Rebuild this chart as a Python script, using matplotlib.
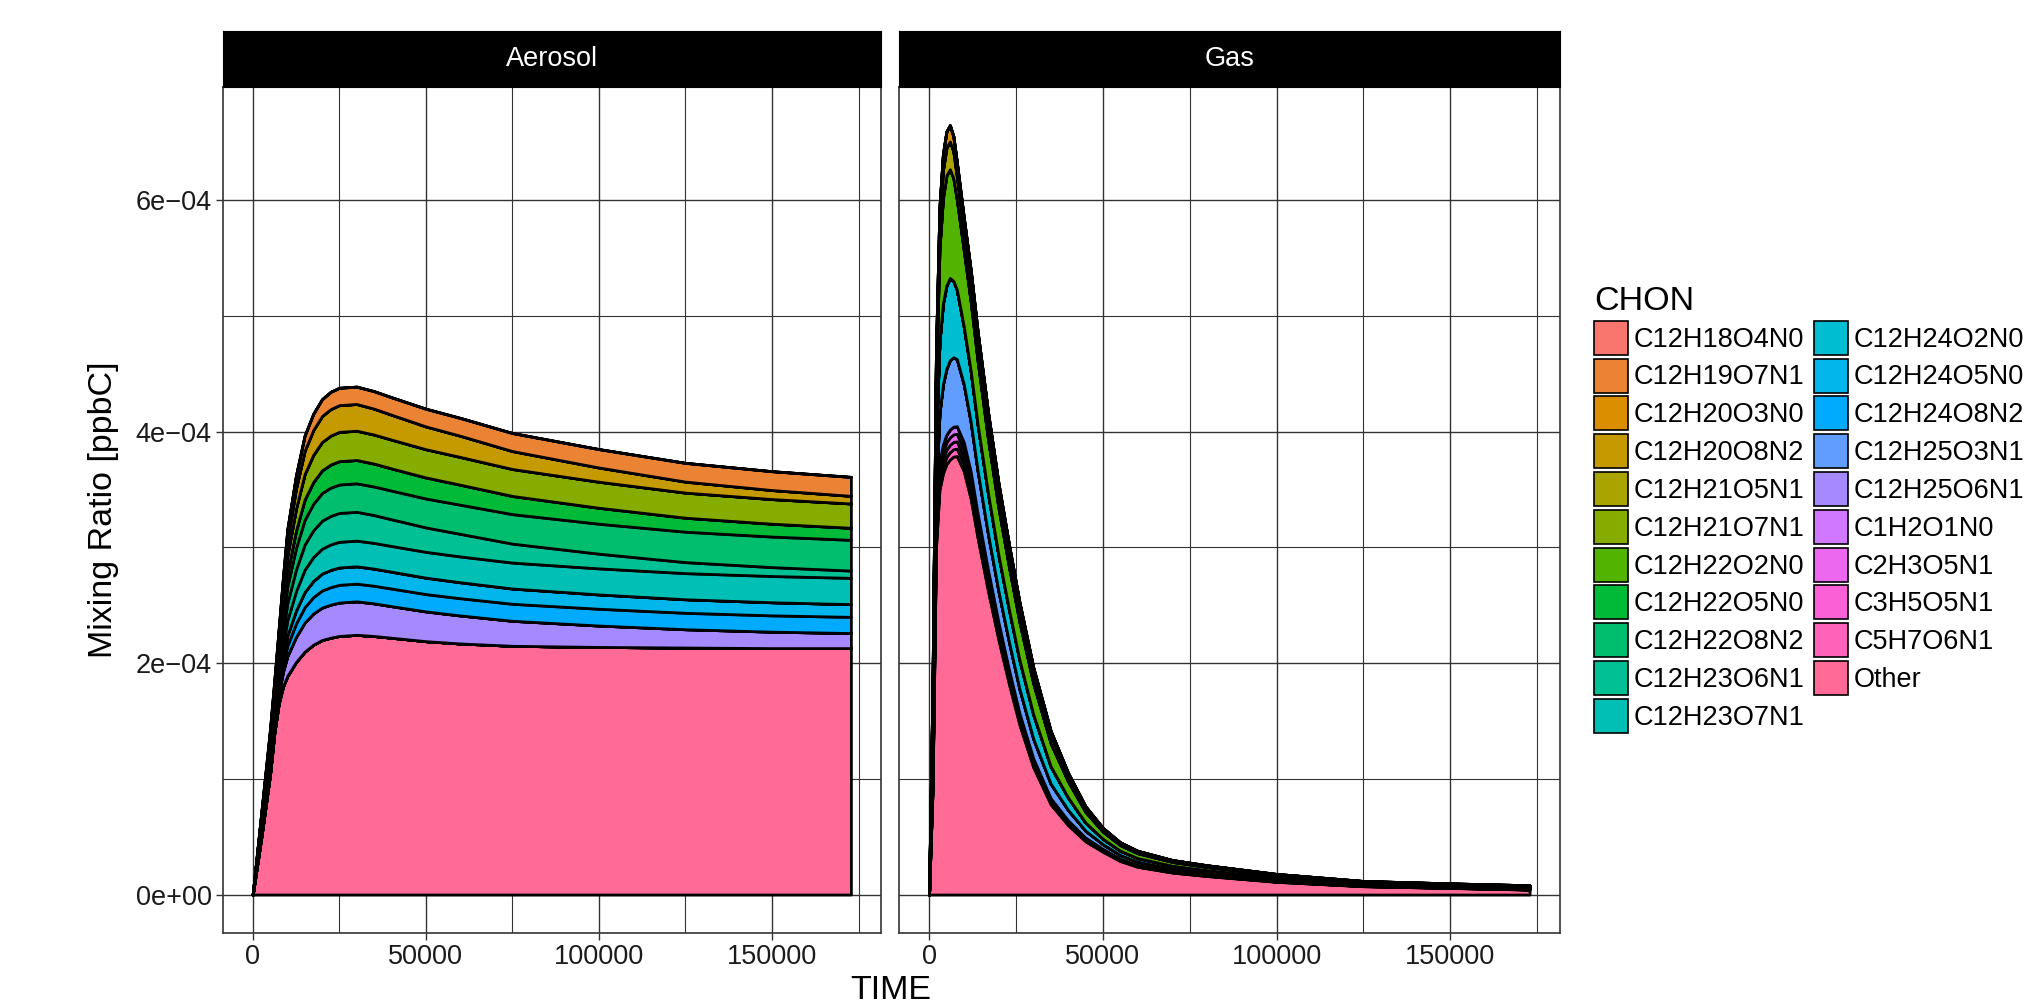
import numpy as np
import matplotlib
matplotlib.use('Agg')
import matplotlib.pyplot as plt
from matplotlib.patches import Patch

plt.rcParams['font.family'] = ['Liberation Sans', 'DejaVu Sans']

# ----------------------------------------------------------------------
# data (mixing ratios in units of 1e-4 ppbC)
# ----------------------------------------------------------------------
species = ['C12H18O4N0', 'C12H19O7N1', 'C12H20O3N0', 'C12H20O8N2', 'C12H21O5N1',
           'C12H21O7N1', 'C12H22O2N0', 'C12H22O5N0', 'C12H22O8N2', 'C12H23O6N1',
           'C12H23O7N1', 'C12H24O2N0', 'C12H24O5N0', 'C12H24O8N2', 'C12H25O3N1',
           'C12H25O6N1', 'C1H2O1N0', 'C2H3O5N1', 'C3H5O5N1', 'C5H7O6N1', 'Other']
panels = ['Aerosol', 'Gas']
unit = 1e-4

time_aerosol = [0, 2500, 5000, 6250, 7500, 8750, 10000, 12500, 15000, 17500, 20000,
                22500, 25000, 30000, 35000, 40000, 50000, 60000, 75000, 100000,
                125000, 150000, 172800]
aer_other = [0, .5, 1.04, 1.40, 1.65, 1.80, 1.89, 2.01, 2.10, 2.16, 2.2, 2.22, 2.235,
             2.245, 2.235, 2.22, 2.19, 2.17, 2.15, 2.14, 2.135, 2.13, 2.13]
aer_c12h25o6n1 = [0, .029, .052, .061, .087, .127, .171, .217, .251, .269, .280, .286,
                  .289, .289, .282, .273, .257, .242, .216, .185, .158, .142, .130]
aer_c12h24o8n2 = [0, .015, .028, .032, .046, .067, .090, .115, .133, .142, .148, .151,
                  .153, .153, .152, .152, .150, .149, .147, .145, .142, .141, .140]
aer_c12h24o5n0 = [0, .015, .027, .032, .045, .066, .089, .113, .131, .140, .146, .149,
                  .150, .150, .148, .146, .142, .138, .132, .124, .117, .113, .110]
aer_c12h23o7n1 = [0, .022, .040, .047, .067, .098, .131, .167, .193, .206, .215, .220,
                  .222, .222, .222, .222, .223, .223, .224, .225, .226, .227, .227]
aer_c12h23o6n1 = [0, .025, .045, .052, .075, .110, .147, .187, .217, .232, .242, .247,
                  .249, .249, .241, .231, .211, .195, .164, .127, .095, .077, .063]
aer_c12h22o8n2 = [0, .025, .044, .052, .074, .108, .145, .185, .214, .229, .239, .244,
                  .246, .246, .247, .248, .250, .252, .255, .259, .263, .264, .266]
aer_c12h22o5n0 = [0, .020, .036, .042, .061, .089, .119, .152, .176, .188, .196, .200,
                  .202, .202, .198, .192, .182, .173, .157, .138, .121, .111, .104]
aer_c12h21o7n1 = [0, .025, .046, .053, .076, .111, .149, .190, .220, .235, .245, .250,
                  .253, .253, .251, .249, .244, .240, .233, .225, .217, .213, .210]
aer_c12h20o8n2 = [0, .023, .042, .049, .069, .102, .136, .173, .201, .215, .224, .229,
                  .231, .231, .224, .215, .197, .183, .155, .123, .095, .078, .066]
aer_c12h19o7n1 = [0, .015, .027, .032, .045, .066, .089, .113, .131, .140, .146, .149,
                  .150, .150, .151, .151, .153, .154, .156, .159, .162, .163, .164]

time_gas = [0, 1000, 2000, 3000, 4000, 5000, 6000, 7000, 8000, 10000, 12000, 14000,
            17000, 20000, 23000, 26000, 30000, 35000, 40000, 45000, 50000, 55000,
            60000, 70000, 80000, 100000, 125000, 150000, 172800]
gas_other = [0, .9, 3.0, 3.5, 3.64, 3.72, 3.76, 3.785, 3.79, 3.66, 3.42, 3.08, 2.62,
             2.2, 1.82, 1.47, 1.1, .78, .6, .46, .37, .29, .24, .19, .16, .11, .072,
             .057, .043]
gas_c5h7o6n1 = [0, .015, .051, .060, .062, .063, .064, .064, .064, .062, .058, .052,
                .045, .037, .031, .025, .019, .013, .010, .008, .006, .005, .004, .003,
                .003, .002, .0012, .001, .0007]
gas_c3h5o5n1 = [0, .014, .048, .058, .061, .062, .063, .063, .063, .061, .057, .051,
                .044, .036, .030, .024, .018, .013, .010, .008, .006, .005, .004, .003,
                .0028, .0019, .0012, .001, .0007]
gas_c2h3o5n1 = [0, .016, .052, .061, .063, .064, .065, .065, .065, .063, .059, .053,
                .046, .038, .031, .025, .019, .013, .010, .008, .006, .005, .004, .003,
                .003, .002, .0013, .001, .0008]
gas_c1h2o1n0 = [0, .016, .053, .062, .064, .066, .067, .067, .066, .064, .060, .054,
                .047, .039, .032, .026, .020, .014, .011, .008, .007, .005, .005, .004,
                .003, .002, .0013, .0011, .0008]
gas_c12h25o3n1 = [0, .12, .28, .42, .52, .57, .60, .60, .58, .50, .43, .37, .31, .27,
                  .24, .21, .17, .125, .09, .06, .04, .032, .027, .021, .018, .013,
                  .009, .008, .008]
gas_c12h24o2n0 = [0, .22, .45, .62, .70, .72, .71, .66, .60, .50, .44, .40, .35, .31,
                  .28, .25, .21, .15, .107, .07, .047, .037, .031, .025, .021, .016,
                  .01, .009, .009]
gas_c12h22o2n0 = [0, .32, .52, .80, .91, .95, .94, .89, .78, .66, .60, .55, .47, .41,
                  .37, .33, .27, .20, .14, .093, .062, .048, .042, .033, .028, .021,
                  .014, .012, .011]
gas_c12h21o5n1 = [0, .12, .17, .24, .24, .24, .24, .23, .20, .18, .17, .16, .15, .14,
                  .125, .11, .09, .07, .048, .031, .021, .016, .014, .011, .009, .007,
                  .005, .004, .004]
gas_c12h20o3n0 = [0, .06, .08, .12, .14, .14, .14, .13, .12, .10, .10, .09, .08, .07,
                  .065, .058, .045, .035, .025, .016, .011, .008, .007, .005, .005,
                  .003, .002, .002, .002]

x_ticks = [0, 50000, 100000, 150000]
x_minor = [25000, 75000, 125000, 175000]
y_ticks = [0, 2e-4, 4e-4, 6e-4]
y_tick_labels = ['0e+00', '2e\u221204', '4e\u221204', '6e\u221204']
y_minor = [1e-4, 3e-4, 5e-4]

aerosol = {'Other': aer_other, 'C12H25O6N1': aer_c12h25o6n1, 'C12H24O8N2': aer_c12h24o8n2,
           'C12H24O5N0': aer_c12h24o5n0, 'C12H23O7N1': aer_c12h23o7n1,
           'C12H23O6N1': aer_c12h23o6n1, 'C12H22O8N2': aer_c12h22o8n2,
           'C12H22O5N0': aer_c12h22o5n0, 'C12H21O7N1': aer_c12h21o7n1,
           'C12H20O8N2': aer_c12h20o8n2, 'C12H19O7N1': aer_c12h19o7n1}
gas = {'Other': gas_other, 'C5H7O6N1': gas_c5h7o6n1, 'C3H5O5N1': gas_c3h5o5n1,
       'C2H3O5N1': gas_c2h3o5n1, 'C1H2O1N0': gas_c1h2o1n0, 'C12H25O3N1': gas_c12h25o3n1,
       'C12H24O2N0': gas_c12h24o2n0, 'C12H22O2N0': gas_c12h22o2n0,
       'C12H21O5N1': gas_c12h21o5n1, 'C12H20O3N0': gas_c12h20o3n0}


# ----------------------------------------------------------------------
# ggplot-style hue palette (HCL, c=100, l=65)
# ----------------------------------------------------------------------
def hue_color(h, c=100.0, l=65.0):
    xn, yn, zn = 95.047, 100.0, 108.883
    un = 4 * xn / (xn + 15 * yn + 3 * zn)
    vn = 9 * yn / (xn + 15 * yn + 3 * zn)
    hr = np.radians(h)
    u, v = c * np.cos(hr), c * np.sin(hr)
    y = yn * ((l + 16) / 116) ** 3
    up = u / (13 * l) + un
    vp = v / (13 * l) + vn
    x = 9 * y * up / (4 * vp)
    z = y * (12 - 3 * up - 20 * vp) / (4 * vp)
    m = np.array([[3.2404542, -1.5371385, -0.4985314],
                  [-0.9692660, 1.8760108, 0.0415560],
                  [0.0556434, -0.2040259, 1.0572252]])
    rgb = m @ (np.array([x, y, z]) / 100)
    rgb = np.where(rgb <= 0.0031308, 12.92 * rgb, 1.055 * np.abs(rgb) ** (1 / 2.4) - 0.055)
    return tuple(np.clip(rgb, 0, 1))


n = len(species)
colors = [hue_color(15 + 360 * i / n) for i in range(n)]

# ----------------------------------------------------------------------
# figure
# ----------------------------------------------------------------------
W, H = 2031, 1008
fig = plt.figure(figsize=(W / 100, H / 100), dpi=100)

panel_bottom = 1 - 933 / H
panel_height = (933 - 86.8) / H
strip_height = (86.8 - 31) / H
panel_x = [(222.8, 880.8), (899, 1559.6)]

x_max = max(time_aerosol[-1], time_gas[-1])
totals = [np.sum([d[k] for k in d], axis=0).max() * unit for d in (aerosol, gas)]
y_max = max(totals)

axes = []
for (x0, x1), name, data, t in zip(panel_x, panels, [aerosol, gas], [time_aerosol, time_gas]):
    ax = fig.add_axes([x0 / W, panel_bottom, (x1 - x0) / W, panel_height])
    axes.append(ax)

    # stack bottom (Other) -> top (first legend entry)
    ys = [np.array(data.get(s, np.zeros(len(t)))) * unit for s in species[::-1]]
    ax.stackplot(t, *ys, colors=colors[::-1], edgecolor='black', linewidth=2.0, zorder=2)

    ax.set_xlim(-0.05 * x_max, 1.05 * x_max)
    ax.set_ylim(-0.05 * y_max, 1.05 * y_max)
    ax.set_xticks(x_ticks)
    ax.set_xticks(x_minor, minor=True)
    ax.set_yticks(y_ticks)
    ax.set_yticks(y_minor, minor=True)
    ax.set_xticklabels([str(v) for v in x_ticks])
    ax.grid(True, which='major', color='#333333', linewidth=1.0)
    ax.grid(True, which='minor', color='#333333', linewidth=0.8)
    ax.set_axisbelow(True)
    ax.tick_params(which='major', direction='out', length=5, width=1, color='#333333',
                   labelsize=19.5, labelcolor='#1a1a1a', pad=3)
    ax.tick_params(which='minor', length=0)
    for sp in ax.spines.values():
        sp.set_color('#333333')
        sp.set_linewidth(1.2)

    # facet strip
    sx = fig.add_axes([x0 / W, panel_bottom + panel_height, (x1 - x0) / W, strip_height])
    sx.set_facecolor('black')
    sx.set_xticks([])
    sx.set_yticks([])
    for sp in sx.spines.values():
        sp.set_color('black')
    sx.text(0.5, 0.5, name, color='white', fontsize=19.5, ha='center', va='center',
            transform=sx.transAxes)

axes[0].set_yticklabels(y_tick_labels)
axes[1].tick_params(axis='y', which='both', left=False, labelleft=False)

fig.text(104 / W, 1 - 510 / H, 'Mixing Ratio [ppbC]', rotation=90, fontsize=24.5,
         ha='center', va='center', color='black')
fig.text(891 / W, 2 / H, 'TIME', fontsize=24.5, ha='center', va='bottom', color='black')

# legend
handles = [Patch(facecolor=c, edgecolor='black', linewidth=1.2) for c in colors]
fig.legend(handles, species, ncol=2, loc='upper left',
           bbox_to_anchor=(1594 / W, 1 - 286 / H), frameon=False,
           title='CHON', title_fontsize=24.5, fontsize=19.5, alignment='left',
           handlelength=1.26, handleheight=1.555, handletextpad=0.22,
           columnspacing=0.33, labelspacing=0.14, borderpad=0, borderaxespad=0)

fig.savefig('out.png', dpi=100)
